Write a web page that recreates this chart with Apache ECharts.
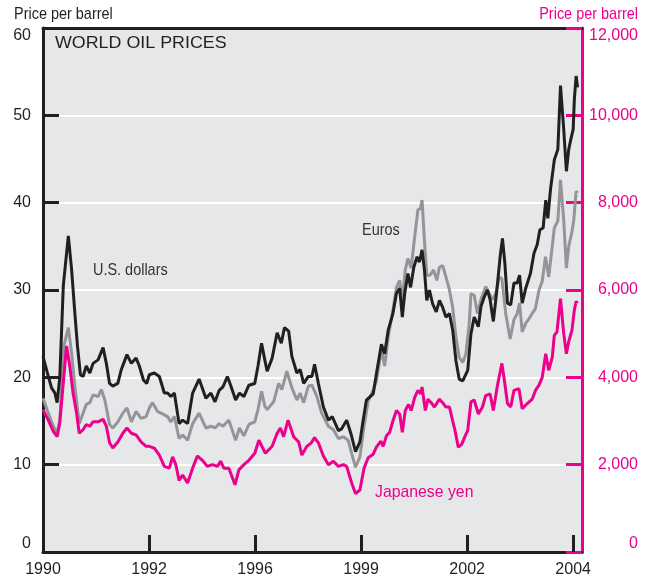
<!DOCTYPE html>
<html>
<head>
<meta charset="utf-8">
<script src="https://cdn.jsdelivr.net/npm/echarts@6/dist/echarts.min.js"></script>
<style>
html,body{margin:0;padding:0;background:#fff;}
#chart{width:657px;height:584px;}
</style>
</head>
<body>
<div id="chart"></div>
<script>
// x values are months since January 1990
const xTickLabels = ["1990", "1992", "1996", "1999", "2002", "2004"];
const leftTicks = [0, 10, 20, 30, 40, 50, 60];
const rightTicks = [0, 2000, 4000, 6000, 8000, 10000, 12000];

const usdMonths = [0,1.8,2.9,4.05,4.8,5.7,6.9,8.6,9.7,10.8,11.7,12.7,13.6,14.7,15.9,17,18.7,20.4,21.5,22.6,23.7,25.4,26.6,28.5,30,31.6,32.7,34.1,35.2,
  36.1,37.8,39.5,41.2,42.3,43.4,44.6,46.2,47.4,49.1,50.8,53,55.3,57,58.4,59.8,61.1,62.6,63.7,65.4,66.7,68.2,69.9,71.9,73,74.2,75.3,
  76.1,77.8,79.5,80.9,82,83.4,84.5,86.2,87.3,88.5,90.1,91.3,92.2,93.5,95.2,96.9,98.2,100.3,101.4,103.1,104.5,106.1,107.6,108.7,109.8,
  110.4,112.1,113.2,114.9,116,117.2,118.8,120,121.1,122,122.8,123.9,124.8,125.9,127,127.8,128.7,129.5,130.3,131.2,132.3,133.5,134.6,135.7,136.8,138,139.1,140.2,141.3,142.5,
  144.2,145.3,146.4,147.8,148.7,149.8,150.9,151.8,152.9,154.1,155.2,156,156.8,157.7,158.8,159.9,161,161.8,162.7,163.9,165.5,166.7,167.8,168.7,169.8,170.7,171.4,172.3,173.6,174.8,175.7,176.8,177.7,178.5,179.3,180,180.4,181,181.5];
const usdPrices = [22.4,20.1,18.8,18.2,17.1,20,30.5,36.2,32.4,27.4,23.6,20.3,20.1,21.3,20.5,21.6,22,23.4,21.6,19.3,19,19.3,20.9,22.6,21.6,22.2,21.3,19.7,19.3,
  20.3,20.5,20.1,18.2,18.2,17.8,18.2,14.7,15.1,14.7,18.2,19.8,17.6,18.2,17.2,18.5,18.9,20.1,19.1,17.4,18.2,17.8,19.1,19.3,21.3,23.9,22,
  20.7,22.2,25.1,23.9,25.7,25.3,22.4,20.5,20.9,19.3,20.1,20.1,21.5,19.3,16.6,15.1,15.5,13.9,14.1,15.1,13.6,11.5,12.6,15.1,17.4,
  17.5,18.1,20.4,23.8,22.7,25.4,27.3,29.6,30.2,26.9,29.6,31.9,30.3,32.6,33.8,33.2,34.6,32.3,28.8,30,28.4,27.5,28.8,28,26.9,27.3,25.4,21.9,19.8,19.6,
  20.8,25,26.9,25.8,28.1,29.2,30,28.9,26.4,30,33.8,35.9,33.1,28.5,28.3,30.8,30.8,31.7,28.5,30.2,31.9,34.2,35.2,36.9,37.1,40.3,38.2,41.5,44.9,46.1,53.4,48.4,43.6,46.1,47.4,48.4,51.8,54.5,53.2];

const eurMonths = [0,1.8,3.5,4.8,5.7,7.1,8.6,9.7,10.8,12.3,13.6,14.7,15.9,17,18.7,19.8,21,22.6,23.7,25.4,27.1,28.5,30,31.6,33.3,35,
  36.1,37.2,38.9,41.2,42.3,43.4,44.6,46.2,47.4,49.1,50.8,53,55.3,57,58.4,59.8,61.1,63.1,65.4,66.7,68.2,69.9,71.9,73,74.2,75.3,
  76.1,78.3,80,81.1,82.8,84.5,86.2,87.3,88.5,90.1,91.3,93,94.6,96.9,98.6,100.3,102,103.6,104.8,106.1,107.6,109,
  110.4,112.1,113.2,114.9,116,117.2,118.8,120,121.1,122,123,123.9,125,126.2,127.3,128.1,128.7,129.5,130.3,131.4,132.6,133.7,134.6,135.7,136.8,138,139.1,140.2,141.3,142.5,143.6,
  144.7,145.3,146.4,147.5,148.7,150.3,151.5,152.6,153.7,154.9,155.8,157.1,158.6,159.9,161,161.8,162.7,163.9,165,166.1,167.2,168.4,169.5,170.6,171.7,172.9,173.6,174.8,175.7,176.8,177.7,178.5,179.6,180.2,181,181.5];
const eurPrices = [17.6,15.9,14.4,13.6,15.1,23.6,25.7,22.8,19,14.7,15.9,16.9,17.1,18,17.8,18.6,17.4,14.6,14.2,14.9,15.9,16.5,14.9,16.1,15.3,15.5,
  16.5,17.1,16.1,15.7,15.5,14.9,15.5,13,13.4,12.8,14.7,15.9,14.2,14.4,14.2,14.7,14.4,15.1,12.8,14.2,13.3,14.6,14.9,16.3,18.4,16.7,
  16.3,17.2,19.3,18.6,20.7,18.8,17.4,18.2,17.1,19,19.1,17.8,15.9,14.4,14,13,13.2,12.8,11.3,9.7,10.9,14.4,
  17.3,18.5,19.6,23.1,21.3,24.6,27.7,30.3,31.1,28.8,32.3,33.6,32.5,36.1,39.2,39.3,40.3,35.7,31.7,31.7,32.3,31.1,32.6,32.8,31.5,30,28,24.6,22.3,21.7,22.7,
  26.1,29.6,29.4,27.3,28.9,30.4,29.6,28.9,29.6,31.5,31.3,27.3,24.4,26.6,27.3,28.5,25.2,26.2,26.7,27.3,27.9,30,31,33.8,31.5,35,37.1,37.9,42.6,38,32.5,35,36.7,38,41.3,41.1];

const yenMonths = [0,1.8,3.5,4.8,5.7,8,9.1,10.2,11.4,12.3,13.6,14.7,15.9,17,18.7,20.4,21.5,22.6,23.7,25.4,27.1,28.5,30,31.6,33.3,35,
  36.1,37.8,39.5,41.2,42.9,44,45.1,46.2,47.4,49.1,50.8,52.4,54.1,55.8,57.5,59.2,60.3,61.4,63.1,65.2,66.5,68.2,69.9,71.9,73.3,
  75.5,77.8,79.5,80.6,81.7,83.2,85.1,86.8,87.9,89.6,91.1,92.2,93.5,95.2,96.9,98.6,100.3,102,103.1,104.8,106.1,107.6,109,
  110.4,112.1,113.2,114.7,115.5,116.6,117.7,118.8,120,121.1,122,123,124.1,125,126.2,127.3,128.2,128.7,129.8,130.7,131.8,132.9,134.6,135.7,136.8,138,139.1,139.9,141,142.1,143.6,
  144.2,145.3,146.4,147.8,149.2,150.3,151.8,152.9,154.3,155.8,156.8,157.7,158.8,159.9,161.6,162.7,164.4,166.1,167.2,168.4,169.5,170.7,171.7,172.9,173.6,174.5,175.7,176.8,177.7,178.5,179.6,180.4,181,181.5];
const yenPrices = [3260,3020,2760,2640,2960,4720,4260,3640,3180,2720,2800,2920,2880,2980,2980,3040,2880,2500,2380,2520,2720,2840,2720,2680,2520,2420,
  2420,2380,2220,1960,1920,2180,2000,1640,1760,1580,1920,2200,2100,1960,2000,1960,2080,1920,1920,1540,1880,2000,2100,2260,2560,
  2260,2420,2720,2840,2640,3020,2640,2520,2220,2420,2500,2620,2500,2200,2000,2080,1960,2000,1960,1580,1340,1420,1920,
  2160,2240,2400,2540,2420,2660,2740,3000,3240,3160,2740,3240,3380,3240,3540,3700,3620,3780,3240,3500,3420,3320,3500,3420,3320,3320,3000,2780,2400,2460,2700,
  2780,3440,3480,3160,3320,3580,3620,3240,3820,4320,3860,3400,3320,3700,3740,3280,3400,3500,3700,3820,4000,4540,4160,4460,4960,5040,5800,5000,4540,4820,5080,5540,5740,5700];

const pair = (xs, ys) => xs.map((x, i) => [x, ys[i]]);

const DARK = '#231f20';
const GRAY = '#939598';
const PINK = '#ec008c';
const SANS = "'Liberation Sans', Arial, sans-serif";

const label = (text, x, y, color, align, scale) => ({
  type: 'text', x: x, y: y, scaleX: scale || 0.85, silent: true,
  style: {text: text, fill: color, font: '17px ' + SANS, textAlign: align || 'left', textVerticalAlign: 'middle'}
});

const chart = echarts.init(document.getElementById('chart'), null, {renderer: 'canvas'});
chart.setOption({
  animation: false,
  backgroundColor: '#ffffff',
  grid: {left: 43, right: 75, top: 28, bottom: 32, show: true, backgroundColor: '#e6e7e8', borderWidth: 0},
  xAxis: [{
    type: 'value', min: 0, max: 183, interval: 36, position: 'bottom',
    axisLine: {show: true, onZero: false, lineStyle: {color: DARK, width: 3}},
    axisTick: {show: true, inside: true, length: 17, lineStyle: {color: DARK, width: 3}},
    splitLine: {show: false},
    axisLabel: {
      color: DARK, fontFamily: SANS, fontSize: 16, margin: 10,
      formatter: v => xTickLabels[Math.round(v / 36)] || ''
    }
  }, {
    type: 'value', min: 0, max: 183, position: 'top',
    axisLine: {show: true, onZero: false, lineStyle: {color: DARK, width: 3}},
    axisTick: {show: false}, axisLabel: {show: false}, splitLine: {show: false}
  }],
  yAxis: [{
    type: 'value', min: leftTicks[0], max: leftTicks[leftTicks.length - 1], interval: 10, position: 'left',
    axisLine: {show: true, onZero: false, lineStyle: {color: DARK, width: 3}},
    axisTick: {show: true, inside: true, length: 16, lineStyle: {color: DARK, width: 3}},
    splitLine: {show: true, lineStyle: {color: '#ffffff', width: 2}},
    axisLabel: {color: DARK, fontFamily: SANS, fontSize: 16, margin: 12,
      verticalAlignMaxLabel: 'top', verticalAlignMinLabel: 'bottom'}
  }, {
    type: 'value', min: rightTicks[0], max: rightTicks[rightTicks.length - 1], interval: 2000, position: 'right',
    axisLine: {show: true, onZero: false, lineStyle: {color: PINK, width: 3}},
    axisTick: {show: true, inside: true, length: 16, lineStyle: {color: PINK, width: 3}},
    splitLine: {show: false},
    axisLabel: {
      color: PINK, fontFamily: SANS, fontSize: 16, margin: 56, align: 'right',
      verticalAlignMaxLabel: 'top', verticalAlignMinLabel: 'bottom',
      formatter: v => v.toLocaleString('en-US')
    }
  }],
  series: [
    {name: 'Euros', type: 'line', data: pair(eurMonths, eurPrices), yAxisIndex: 0, showSymbol: false,
     lineStyle: {color: GRAY, width: 3}, z: 2},
    {name: 'Japanese yen', type: 'line', data: pair(yenMonths, yenPrices), yAxisIndex: 1, showSymbol: false,
     lineStyle: {color: PINK, width: 3}, z: 3},
    {name: 'U.S. dollars', type: 'line', data: pair(usdMonths, usdPrices), yAxisIndex: 0, showSymbol: false,
     lineStyle: {color: DARK, width: 3}, z: 4}
  ],
  graphic: [
    label('Price per barrel', 14, 14, DARK),
    label('Price per barrel', 638, 14, PINK, 'right'),
    {type: 'text', x: 55, y: 43, scaleX: 1.05, silent: true,
     style: {text: 'WORLD OIL PRICES', fill: DARK, font: '17px ' + SANS, textVerticalAlign: 'middle'}},
    label('U.S. dollars', 93, 270, '#333333'),
    label('Euros', 362, 230, '#333333'),
    label('Japanese yen', 375, 492, PINK, 'left', 0.93)
  ]
});
</script>
</body>
</html>
